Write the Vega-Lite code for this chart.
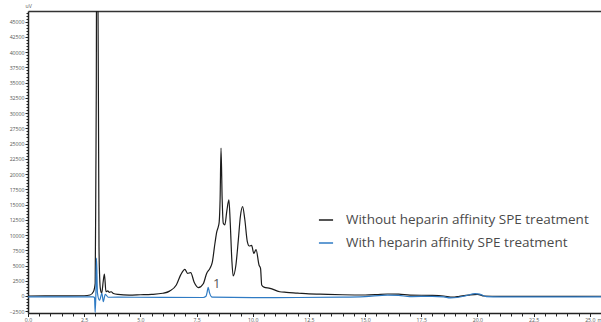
{
  "$schema": "https://vega.github.io/schema/vega-lite/v6.json",
  "width": 573,
  "height": 302,
  "padding": {"left": 28, "top": 11, "right": 0, "bottom": 9},
  "autosize": {"type": "none"},
  "background": "white",
  "config": {
    "view": {"stroke": null},
    "font": "Open Sans",
    "axis": {"grid": false, "domainColor": "#222", "tickColor": "#222", "labelColor": "#555", "labelFont": "Open Sans", "labelFontSize": 5.2, "titleFont": "Open Sans", "titleFontWeight": "normal", "titleColor": "#555", "titleFontSize": 5.2}
  },
  "datasets": {
    "traces": [
      {"t": 0, "v": 0, "s": "Without heparin affinity SPE treatment"},
      {"t": 1.5, "v": 20, "s": "Without heparin affinity SPE treatment"},
      {"t": 2.5, "v": 40, "s": "Without heparin affinity SPE treatment"},
      {"t": 2.76, "v": 160, "s": "Without heparin affinity SPE treatment"},
      {"t": 2.91, "v": 700, "s": "Without heparin affinity SPE treatment"},
      {"t": 2.99, "v": 2080, "s": "Without heparin affinity SPE treatment"},
      {"t": 3.02, "v": 20000, "s": "Without heparin affinity SPE treatment"},
      {"t": 3.04, "v": 35000, "s": "Without heparin affinity SPE treatment"},
      {"t": 3.055, "v": 60000, "s": "Without heparin affinity SPE treatment"},
      {"t": 3.1, "v": 60000, "s": "Without heparin affinity SPE treatment"},
      {"t": 3.16, "v": 8000, "s": "Without heparin affinity SPE treatment"},
      {"t": 3.19, "v": 3000, "s": "Without heparin affinity SPE treatment"},
      {"t": 3.22, "v": 1200, "s": "Without heparin affinity SPE treatment"},
      {"t": 3.28, "v": 440, "s": "Without heparin affinity SPE treatment"},
      {"t": 3.35, "v": 2500, "s": "Without heparin affinity SPE treatment"},
      {"t": 3.4, "v": 3600, "s": "Without heparin affinity SPE treatment"},
      {"t": 3.47, "v": 700, "s": "Without heparin affinity SPE treatment"},
      {"t": 3.55, "v": 850, "s": "Without heparin affinity SPE treatment"},
      {"t": 3.62, "v": 600, "s": "Without heparin affinity SPE treatment"},
      {"t": 3.7, "v": 700, "s": "Without heparin affinity SPE treatment"},
      {"t": 3.8, "v": 400, "s": "Without heparin affinity SPE treatment"},
      {"t": 4.0, "v": 250, "s": "Without heparin affinity SPE treatment"},
      {"t": 4.5, "v": 150, "s": "Without heparin affinity SPE treatment"},
      {"t": 5.0, "v": 200, "s": "Without heparin affinity SPE treatment"},
      {"t": 5.5, "v": 260, "s": "Without heparin affinity SPE treatment"},
      {"t": 6.0, "v": 450, "s": "Without heparin affinity SPE treatment"},
      {"t": 6.3, "v": 800, "s": "Without heparin affinity SPE treatment"},
      {"t": 6.6, "v": 1800, "s": "Without heparin affinity SPE treatment"},
      {"t": 6.8, "v": 3500, "s": "Without heparin affinity SPE treatment"},
      {"t": 6.98, "v": 4380, "s": "Without heparin affinity SPE treatment"},
      {"t": 7.1, "v": 3700, "s": "Without heparin affinity SPE treatment"},
      {"t": 7.24, "v": 3830, "s": "Without heparin affinity SPE treatment"},
      {"t": 7.4, "v": 2200, "s": "Without heparin affinity SPE treatment"},
      {"t": 7.58, "v": 1360, "s": "Without heparin affinity SPE treatment"},
      {"t": 7.8, "v": 2000, "s": "Without heparin affinity SPE treatment"},
      {"t": 7.95, "v": 3700, "s": "Without heparin affinity SPE treatment"},
      {"t": 8.1, "v": 4550, "s": "Without heparin affinity SPE treatment"},
      {"t": 8.2, "v": 5500, "s": "Without heparin affinity SPE treatment"},
      {"t": 8.32, "v": 8650, "s": "Without heparin affinity SPE treatment"},
      {"t": 8.4, "v": 10500, "s": "Without heparin affinity SPE treatment"},
      {"t": 8.47, "v": 11380, "s": "Without heparin affinity SPE treatment"},
      {"t": 8.51, "v": 12200, "s": "Without heparin affinity SPE treatment"},
      {"t": 8.55, "v": 16000, "s": "Without heparin affinity SPE treatment"},
      {"t": 8.59, "v": 24250, "s": "Without heparin affinity SPE treatment"},
      {"t": 8.64, "v": 16000, "s": "Without heparin affinity SPE treatment"},
      {"t": 8.69, "v": 11940, "s": "Without heparin affinity SPE treatment"},
      {"t": 8.76, "v": 11660, "s": "Without heparin affinity SPE treatment"},
      {"t": 8.85, "v": 14000, "s": "Without heparin affinity SPE treatment"},
      {"t": 8.94, "v": 15760, "s": "Without heparin affinity SPE treatment"},
      {"t": 9.0, "v": 12000, "s": "Without heparin affinity SPE treatment"},
      {"t": 9.07, "v": 6000, "s": "Without heparin affinity SPE treatment"},
      {"t": 9.13, "v": 3280, "s": "Without heparin affinity SPE treatment"},
      {"t": 9.25, "v": 5000, "s": "Without heparin affinity SPE treatment"},
      {"t": 9.36, "v": 9200, "s": "Without heparin affinity SPE treatment"},
      {"t": 9.45, "v": 13000, "s": "Without heparin affinity SPE treatment"},
      {"t": 9.55, "v": 14660, "s": "Without heparin affinity SPE treatment"},
      {"t": 9.65, "v": 12500, "s": "Without heparin affinity SPE treatment"},
      {"t": 9.76, "v": 8920, "s": "Without heparin affinity SPE treatment"},
      {"t": 9.85, "v": 8200, "s": "Without heparin affinity SPE treatment"},
      {"t": 9.95, "v": 8300, "s": "Without heparin affinity SPE treatment"},
      {"t": 10.05, "v": 7000, "s": "Without heparin affinity SPE treatment"},
      {"t": 10.15, "v": 7600, "s": "Without heparin affinity SPE treatment"},
      {"t": 10.28, "v": 5090, "s": "Without heparin affinity SPE treatment"},
      {"t": 10.35, "v": 4500, "s": "Without heparin affinity SPE treatment"},
      {"t": 10.4, "v": 1800, "s": "Without heparin affinity SPE treatment"},
      {"t": 10.5, "v": 1450, "s": "Without heparin affinity SPE treatment"},
      {"t": 10.77, "v": 1260, "s": "Without heparin affinity SPE treatment"},
      {"t": 11.2, "v": 700, "s": "Without heparin affinity SPE treatment"},
      {"t": 11.5, "v": 600, "s": "Without heparin affinity SPE treatment"},
      {"t": 12.0, "v": 480, "s": "Without heparin affinity SPE treatment"},
      {"t": 12.5, "v": 350, "s": "Without heparin affinity SPE treatment"},
      {"t": 13.0, "v": 300, "s": "Without heparin affinity SPE treatment"},
      {"t": 14.0, "v": 200, "s": "Without heparin affinity SPE treatment"},
      {"t": 15.0, "v": 160, "s": "Without heparin affinity SPE treatment"},
      {"t": 15.5, "v": 220, "s": "Without heparin affinity SPE treatment"},
      {"t": 16.0, "v": 330, "s": "Without heparin affinity SPE treatment"},
      {"t": 16.5, "v": 300, "s": "Without heparin affinity SPE treatment"},
      {"t": 17.0, "v": 150, "s": "Without heparin affinity SPE treatment"},
      {"t": 18.0, "v": 100, "s": "Without heparin affinity SPE treatment"},
      {"t": 18.5, "v": 0, "s": "Without heparin affinity SPE treatment"},
      {"t": 18.9, "v": -200, "s": "Without heparin affinity SPE treatment"},
      {"t": 19.2, "v": -50, "s": "Without heparin affinity SPE treatment"},
      {"t": 19.6, "v": 150, "s": "Without heparin affinity SPE treatment"},
      {"t": 20.0, "v": 280, "s": "Without heparin affinity SPE treatment"},
      {"t": 20.3, "v": 0, "s": "Without heparin affinity SPE treatment"},
      {"t": 21.0, "v": -50, "s": "Without heparin affinity SPE treatment"},
      {"t": 23.0, "v": -50, "s": "Without heparin affinity SPE treatment"},
      {"t": 25.5, "v": -40, "s": "Without heparin affinity SPE treatment"},
      {"t": 0, "v": -150, "s": "With heparin affinity SPE treatment"},
      {"t": 2.0, "v": -150, "s": "With heparin affinity SPE treatment"},
      {"t": 2.9, "v": -150, "s": "With heparin affinity SPE treatment"},
      {"t": 2.96, "v": -250, "s": "With heparin affinity SPE treatment"},
      {"t": 2.99, "v": -2700, "s": "With heparin affinity SPE treatment"},
      {"t": 3.02, "v": 200, "s": "With heparin affinity SPE treatment"},
      {"t": 3.05, "v": 6200, "s": "With heparin affinity SPE treatment"},
      {"t": 3.09, "v": 500, "s": "With heparin affinity SPE treatment"},
      {"t": 3.18, "v": -700, "s": "With heparin affinity SPE treatment"},
      {"t": 3.29, "v": 440, "s": "With heparin affinity SPE treatment"},
      {"t": 3.35, "v": -930, "s": "With heparin affinity SPE treatment"},
      {"t": 3.44, "v": 280, "s": "With heparin affinity SPE treatment"},
      {"t": 3.57, "v": -210, "s": "With heparin affinity SPE treatment"},
      {"t": 4.0, "v": -200, "s": "With heparin affinity SPE treatment"},
      {"t": 6.0, "v": -230, "s": "With heparin affinity SPE treatment"},
      {"t": 7.8, "v": -250, "s": "With heparin affinity SPE treatment"},
      {"t": 7.92, "v": -50, "s": "With heparin affinity SPE treatment"},
      {"t": 7.97, "v": 600, "s": "With heparin affinity SPE treatment"},
      {"t": 8.02, "v": 1430, "s": "With heparin affinity SPE treatment"},
      {"t": 8.08, "v": 500, "s": "With heparin affinity SPE treatment"},
      {"t": 8.2, "v": -200, "s": "With heparin affinity SPE treatment"},
      {"t": 10.0, "v": -260, "s": "With heparin affinity SPE treatment"},
      {"t": 12.0, "v": -250, "s": "With heparin affinity SPE treatment"},
      {"t": 14.0, "v": -200, "s": "With heparin affinity SPE treatment"},
      {"t": 15.0, "v": -100, "s": "With heparin affinity SPE treatment"},
      {"t": 16.0, "v": 150, "s": "With heparin affinity SPE treatment"},
      {"t": 16.5, "v": 100, "s": "With heparin affinity SPE treatment"},
      {"t": 17.0, "v": -100, "s": "With heparin affinity SPE treatment"},
      {"t": 18.0, "v": -50, "s": "With heparin affinity SPE treatment"},
      {"t": 18.5, "v": -150, "s": "With heparin affinity SPE treatment"},
      {"t": 18.8, "v": -300, "s": "With heparin affinity SPE treatment"},
      {"t": 19.1, "v": -250, "s": "With heparin affinity SPE treatment"},
      {"t": 19.5, "v": 50, "s": "With heparin affinity SPE treatment"},
      {"t": 19.9, "v": 400, "s": "With heparin affinity SPE treatment"},
      {"t": 20.1, "v": 300, "s": "With heparin affinity SPE treatment"},
      {"t": 20.4, "v": -100, "s": "With heparin affinity SPE treatment"},
      {"t": 21.0, "v": -150, "s": "With heparin affinity SPE treatment"},
      {"t": 25.5, "v": -150, "s": "With heparin affinity SPE treatment"}
    ],
    "labels": [
      {"t": 8.4, "v": 1900, "text": "1"}
    ]
  },
  "resolve": {"scale": {"x": "shared", "y": "shared"}, "axis": {"x": "independent", "y": "independent"}},
  "layer": [
    {
      "data": {"name": "traces"},
      "mark": {"type": "line", "clip": true, "strokeWidth": 1.2, "interpolate": "monotone"},
      "encoding": {
        "x": {"field": "t", "type": "quantitative", "scale": {"domain": [0, 25.5], "nice": false, "zero": false},
          "axis": {"orient": "bottom", "values": [0, 2.5, 5, 7.5, 10, 12.5, 15, 17.5, 20, 22.5, 25], "format": ".1f", "tickSize": 3.5, "labelPadding": 0.5, "domainWidth": 1.5, "title": "min", "titleAlign": "left", "titleAnchor": "start", "titleX": 569, "titleY": 6, "titleBaseline": "middle", "labelFlush": false}},
        "y": {"field": "v", "type": "quantitative", "scale": {"domain": [-2790, 46750], "nice": false, "zero": false},
          "axis": {"orient": "left", "values": [-2500, 0, 2500, 5000, 7500, 10000, 12500, 15000, 17500, 20000, 22500, 25000, 27500, 30000, 32500, 35000, 37500, 40000, 42500, 45000], "format": "d", "tickSize": 3, "labelPadding": 1, "domainWidth": 1.5, "title": "uV", "titleAngle": 0, "titleAlign": "left", "titleX": -3, "titleY": -4, "titleBaseline": "alphabetic", "labelFlush": false}},
        "color": {"field": "s", "type": "nominal", "sort": ["Without heparin affinity SPE treatment", "With heparin affinity SPE treatment"],
          "scale": {"domain": ["Without heparin affinity SPE treatment", "With heparin affinity SPE treatment"], "range": ["#1c1c1c", "#2f7bc4"]},
          "legend": {"orient": "none", "legendX": 290, "legendY": 201, "title": null, "symbolType": "stroke", "symbolStrokeWidth": 1.5, "symbolSize": 200, "labelFont": "Open Sans", "labelFontSize": 13.5, "labelColor": "#4a4a4a", "labelLimit": 400, "rowPadding": 8, "labelOffset": 12}}
      }
    },
    {
      "data": {"name": "labels"},
      "mark": {"type": "text", "fontSize": 13, "fill": "#555555", "color": "#555555", "font": "Open Sans", "align": "center", "baseline": "middle"},
      "encoding": {
        "x": {"field": "t", "type": "quantitative",
          "axis": {"orient": "bottom", "values": [0.5, 1, 1.5, 2, 3, 3.5, 4, 4.5, 5.5, 6, 6.5, 7, 8, 8.5, 9, 9.5, 10.5, 11, 11.5, 12, 13, 13.5, 14, 14.5, 15.5, 16, 16.5, 17, 18, 18.5, 19, 19.5, 20.5, 21, 21.5, 22, 23, 23.5, 24, 24.5, 25.5], "labels": false, "domain": false, "tickSize": 3, "title": null}},
        "y": {"field": "v", "type": "quantitative",
          "axis": {"orient": "left", "values": [-2000, -1500, -1000, -500, 500, 1000, 1500, 2000, 3000, 3500, 4000, 4500, 5500, 6000, 6500, 7000, 8000, 8500, 9000, 9500, 10500, 11000, 11500, 12000, 13000, 13500, 14000, 14500, 15500, 16000, 16500, 17000, 18000, 18500, 19000, 19500, 20500, 21000, 21500, 22000, 23000, 23500, 24000, 24500, 25500, 26000, 26500, 27000, 28000, 28500, 29000, 29500, 30500, 31000, 31500, 32000, 33000, 33500, 34000, 34500, 35500, 36000, 36500, 37000, 38000, 38500, 39000, 39500, 40500, 41000, 41500, 42000, 43000, 43500, 44000, 44500, 45500, 46000, 46500], "labels": false, "domain": false, "tickSize": 2, "title": null}},
        "text": {"field": "text", "type": "nominal"}
      }
    },
    {
      "data": {"name": "labels"},
      "mark": {"type": "text", "opacity": 0},
      "encoding": {
        "x": {"field": "t", "type": "quantitative", "axis": {"orient": "top", "labels": false, "ticks": false, "domainWidth": 1.5, "domainColor": "#333", "title": null}},
        "y": {"field": "v", "type": "quantitative", "axis": null},
        "text": {"field": "text", "type": "nominal"}
      }
    }
  ]
}
